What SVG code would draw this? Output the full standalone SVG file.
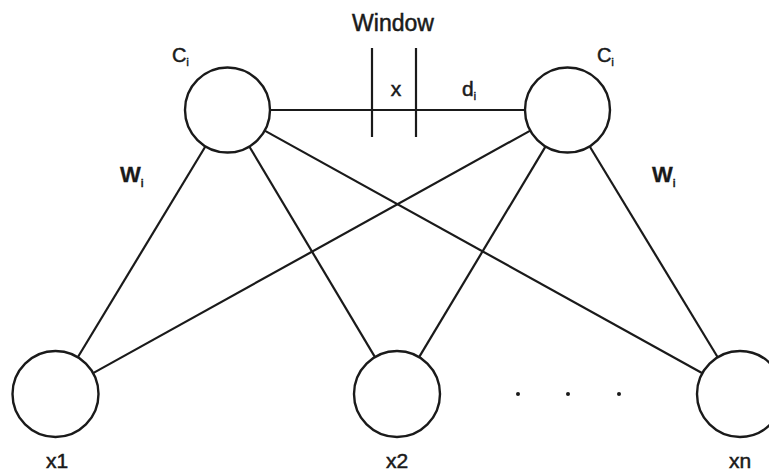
<svg xmlns="http://www.w3.org/2000/svg" width="769" height="473" viewBox="0 0 769 473">
<style>
.n{fill:#fff;stroke:#1a1a1a;stroke-width:2.4}
.e{stroke:#1a1a1a;stroke-width:2.2;fill:none}
.t{font-family:"Liberation Sans",Arial,sans-serif;fill:#1a1a1a;stroke:#1a1a1a;stroke-width:0.5}
.b{font-weight:bold;stroke-width:0.3}
.dot{fill:#1a1a1a}
</style>
<rect width="769" height="473" fill="#fff"/>
<g id="connectors">
<line class="e" x1="270" y1="110" x2="525" y2="110"/>
<line class="e" x1="372" y1="48" x2="372" y2="137"/>
<line class="e" x1="416" y1="48" x2="416" y2="137"/>
<line class="e" x1="205.5" y1="146.3" x2="77.8" y2="357.2"/>
<line class="e" x1="249.3" y1="146.5" x2="375" y2="357.1"/>
<line class="e" x1="264.7" y1="130.6" x2="702.4" y2="373.2"/>
<line class="e" x1="530.3" y1="130.6" x2="93.1" y2="373.1"/>
<line class="e" x1="545.6" y1="146.4" x2="419.1" y2="357.1"/>
<line class="e" x1="589.6" y1="146.3" x2="717.7" y2="357.2"/>
</g>
<g id="labels">
<text class="t" x="393" y="31" font-size="23" text-anchor="middle">Window</text>
<text class="t" x="396" y="96" font-size="21" text-anchor="middle">x</text>
<text class="t" x="462" y="96" font-size="21">d<tspan font-size="10" dy="4">i</tspan></text>
<text class="t b" x="120" y="182" font-size="22">W<tspan font-size="10" dy="5">i</tspan></text>
<text class="t b" x="652" y="182" font-size="22">W<tspan font-size="10" dy="5">i</tspan></text>
</g>
<g id="node-ci-left">
<circle class="n" cx="227.5" cy="110" r="42.5"/>
<text class="t" x="172" y="62" font-size="20">C<tspan font-size="10" dy="4">i</tspan></text>
</g>
<g id="node-ci-right">
<circle class="n" cx="567.5" cy="110" r="42.5"/>
<text class="t" x="597" y="62" font-size="20">C<tspan font-size="10" dy="4">i</tspan></text>
</g>
<g id="node-x1">
<circle class="n" cx="55.5" cy="394" r="43"/>
<text class="t" x="57" y="468" font-size="21" text-anchor="middle">x1</text>
</g>
<g id="node-x2">
<circle class="n" cx="397" cy="394" r="43"/>
<text class="t" x="397" y="468" font-size="21" text-anchor="middle">x2</text>
</g>
<g id="node-xn">
<circle class="n" cx="740" cy="394" r="43"/>
<text class="t" x="740" y="468" font-size="21" text-anchor="middle">xn</text>
</g>
<g id="ellipsis">
<circle class="dot" cx="518" cy="394" r="2"/>
<circle class="dot" cx="568" cy="394" r="2"/>
<circle class="dot" cx="619" cy="394" r="2"/>
</g>
</svg>
